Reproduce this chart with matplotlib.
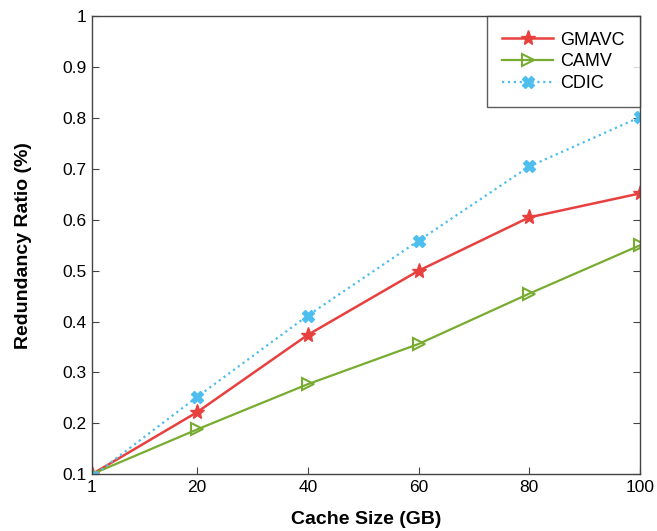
import matplotlib.pyplot as plt

plt.rcParams['font.family'] = ['Liberation Sans', 'DejaVu Sans']

# datos
cache_size = [1, 20, 40, 60, 80, 100]
gmavc = [0.10, 0.222, 0.374, 0.50, 0.605, 0.652]
camv = [0.10, 0.188, 0.277, 0.356, 0.455, 0.550]
cdic = [0.095, 0.252, 0.412, 0.559, 0.705, 0.802]

rojo = '#e8403f'
verde = '#77ac30'
azul = '#4dbeee'

fig = plt.figure(figsize=(6.57, 5.31), dpi=100)
ax = fig.add_axes([0.140, 0.107, 0.834, 0.862])

ax.plot(cache_size, gmavc, color=rojo, lw=1.8, marker='*', ms=11,
        label='GMAVC')
ax.plot(cache_size, camv, color=verde, lw=1.6, marker='>', ms=8,
        mfc='none', mew=1.5, label='CAMV')
ax.plot(cache_size, cdic, color=azul, lw=1.6, ls=':', marker='X', ms=9,
        label='CDIC')

ax.set_xlim(1, 100)
ax.set_ylim(0.1, 1)
ax.set_xticks(cache_size)
ax.set_yticks([0.1, 0.2, 0.3, 0.4, 0.5, 0.6, 0.7, 0.8, 0.9, 1])
ax.set_yticklabels(['0.1', '0.2', '0.3', '0.4', '0.5', '0.6', '0.7',
                    '0.8', '0.9', '1'])
ax.tick_params(direction='in', length=5, width=0.8, color='#444444',
               labelsize=12.5, top=False, right=True, pad=4)
for s in ax.spines.values():
    s.set_color('#444444')
    s.set_linewidth(1.0)

ax.set_xlabel('Cache Size (GB)', fontsize=14, fontweight='bold', labelpad=12)
ax.set_ylabel('Redundancy Ratio (%)', fontsize=14, fontweight='bold',
              labelpad=22)

leg = ax.legend(loc='upper right', fontsize=13, frameon=True, fancybox=False,
                edgecolor='#333333', handlelength=2.8, borderpad=0.85,
                labelspacing=0.25, borderaxespad=0.0, handletextpad=0.4)
leg.get_frame().set_linewidth(1.0)

fig.savefig('out.png', dpi=100)
